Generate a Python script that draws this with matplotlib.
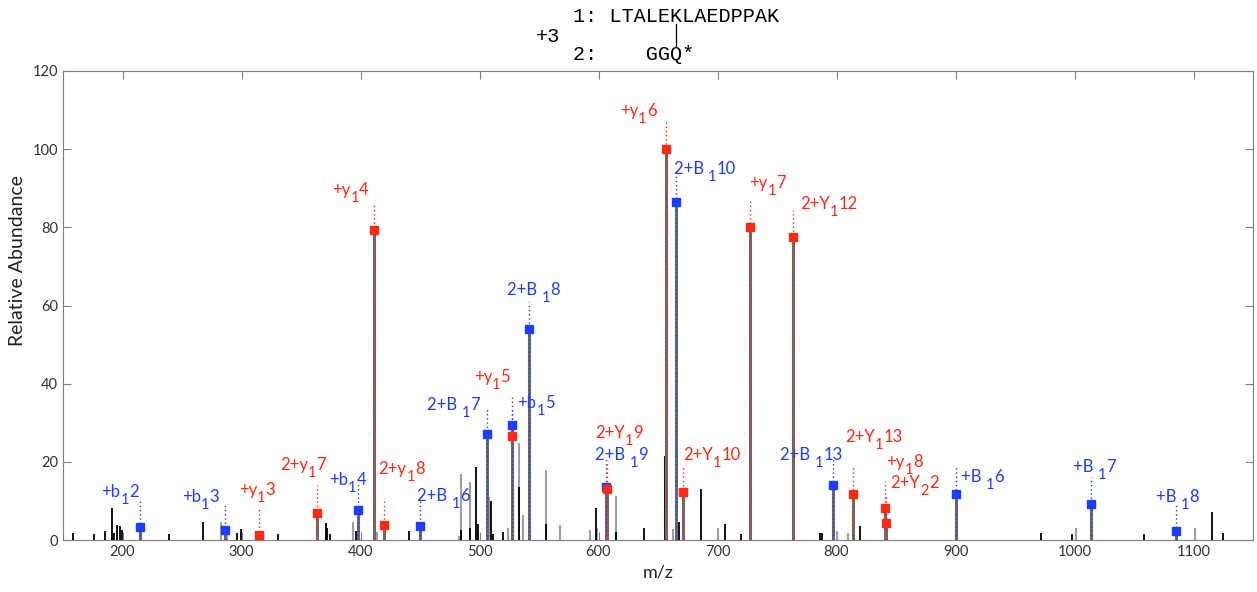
import numpy as np
import matplotlib
matplotlib.use("Agg")
import matplotlib.pyplot as plt
from matplotlib.lines import Line2D
from matplotlib.font_manager import FontProperties

plt.rcParams['font.family'] = ['Lato', 'DejaVu Sans']

# matched fragment ions
ion_mz = [214.3, 286.0, 314.6, 363.4, 398.0, 411.5, 420.0, 450.0, 506.7, 527.0, 527.7,
          542.0, 606.6, 607.0, 656.6, 665.0, 671.0, 727.4, 763.6, 797.3, 814.0, 841.0,
          842.0, 900.5, 1013.8, 1085.4]
ion_int = [3.3, 2.5, 1.3, 7.0, 7.6, 79.3, 3.8, 3.7, 27.0, 26.6, 29.5,
           54.0, 13.6, 13.0, 100.0, 86.5, 12.3, 80.0, 77.5, 14.0, 11.8, 8.2,
           4.4, 11.8, 9.2, 2.3]
ion_type = ['b', 'b', 'y', 'y', 'b', 'y', 'y', 'b', 'b', 'y', 'b',
            'b', 'b', 'y', 'y', 'b', 'y', 'y', 'y', 'b', 'y', 'y',
            'y', 'b', 'b', 'b']
# label = prefix, subscript, suffix
ion_label = [('+b', '1', '2'), ('+b', '1', '3'), ('+y', '1', '3'), ('2+y', '1', '7'),
             ('+b', '1', '4'), ('+y', '1', '4'), ('2+y', '1', '8'), ('2+B ', '1', '6'),
             ('2+B ', '1', '7'), ('+y', '1', '5'), ('+b', '1', '5'), ('2+B ', '1', '8'),
             ('2+B ', '1', '9'), ('2+Y', '1', '9'), ('+y', '1', '6'), ('2+B ', '1', '10'),
             ('2+Y', '1', '10'), ('+y', '1', '7'), ('2+Y', '1', '12'), ('2+B ', '1', '13'),
             ('2+Y', '1', '13'), ('+y', '1', '8'), ('2+Y', '2', '2'), ('+B ', '1', '6'),
             ('+B ', '1', '7'), ('+B ', '1', '8')]

# unmatched peaks
black_mz = [158, 176.4, 185.4, 191, 193, 195, 197.5, 199.5, 238.8, 267.4, 296.3, 299.4,
            316, 330.8, 370.8, 372, 374, 396.3, 412.5, 441, 484.8, 492.3, 497.4, 499,
            510, 511, 519.5, 533.6, 556, 597.6, 614.4, 638.3, 656, 657, 665.5, 667.7,
            671.5, 685.8, 706.2, 719.4, 727.5, 763.5, 786.3, 787.5, 797.5, 814, 819.4,
            841.5, 900.6, 971.7, 997.8, 1013.8, 1058.8, 1115.5, 1124.7]
black_int = [1.7, 1.5, 2.3, 8.1, 1.8, 3.9, 3.5, 2.5, 1.5, 4.7, 1.7, 2.7,
             1.3, 1.5, 4.4, 3.0, 1.5, 2.2, 7.7, 2.4, 2.5, 3.0, 18.8, 4.0,
             10.0, 1.5, 2.1, 13.5, 4.1, 8.2, 2.1, 3.1, 21.5, 20.0, 50.5, 4.5,
             5.1, 13.0, 4.1, 1.5, 20.0, 47.5, 1.7, 1.9, 9.5, 8.2, 3.7,
             3.0, 3.4, 1.7, 1.5, 2.8, 1.6, 7.1, 1.7]
gray_mz = [283, 287.9, 394, 413.5, 483, 484.8, 492.3, 499, 507.8, 523.7, 528.5, 532.8,
           536.4, 556, 568, 592.6, 599, 607.5, 614.4, 662.2, 700.5, 800.3, 810, 1000.9,
           1101.4]
gray_int = [4.5, 1.5, 4.7, 2.0, 1.0, 16.9, 14.8, 2.3, 10.9, 3.0, 3.0, 24.7,
            6.4, 17.8, 3.8, 2.6, 3.0, 8.2, 11.3, 2.8, 3.0, 2.4, 1.7, 3.0,
            3.1]

# label offsets from the marker, pixels (layout only)
label_dx = [-38, -43, -20, -37, -29, -42, -6, -3, -60, -38, 5, -22, -11, -12, -46, -2,
            0, -1, 7, -53, -8, 1, 4, 5, -18, -20]
label_dy = [30, 28, 40, 43, 25, 35, 51, 25, 24, 54, 17, 34, 27, 51, 33, 28,
            32, 39, 28, 25, 52, 41, 35, 12, 32, 29]

RED = '#ff2a14'
BLUE = '#1f3dff'
AXC = '#7f7f7f'

fig = plt.figure(figsize=(12.57, 5.92), dpi=100)
ax = fig.add_axes([63 / 1257, 1 - 540 / 592, (1253 - 63) / 1257, (540 - 71) / 592])
renderer = fig.canvas.get_renderer()

ax.vlines(gray_mz, 0, gray_int, color='#a0a0a0', linewidth=1.5)
ax.vlines(black_mz, 0, black_int, color='black', linewidth=1.3)


def label_text(mz, h, parts, dx, dy, c):
    # prefix, lowered subscript, suffix
    x = dx
    for s, fsz, yoff in zip(parts, [12, 10.5, 12], [0, -7, 0]):
        ax.annotate(s, xy=(mz, h), xytext=(x, dy + yoff), textcoords='offset pixels',
                    color=c, fontsize=fsz, ha='left', va='baseline', zorder=6)
        w, _, _ = renderer.get_text_width_height_descent(
            s.replace(' ', '\u00a0'), FontProperties(family='Lato', size=fsz), ismath=False)
        x += w


for mz, h, t, lab, dx, dy in zip(ion_mz, ion_int, ion_type, ion_label, label_dx, label_dy):
    c = RED if t == 'y' else BLUE
    ax.vlines(mz, 0, h, color='#6a6a6a', linewidth=2.2, zorder=3)
    ax.plot([mz, mz], [0, h + 7], color=c, linestyle=(0, (1, 2)), linewidth=1, zorder=4)
    ax.plot(mz, h, 's', color=c, markersize=6, zorder=5)
    label_text(mz, h, lab, dx, dy, c)

ax.set_xlim(150, 1150)
ax.set_ylim(0, 120)
ax.set_xticks(np.arange(200, 1101, 100))
ax.set_yticks(np.arange(0, 121, 20))
ax.tick_params(direction='in', top=True, right=True, length=6, color=AXC,
               labelsize=10.5, labelcolor='#333333')
for s in ax.spines.values():
    s.set_color(AXC)
ax.set_xlabel('m/z', fontsize=13, color='#222222', labelpad=4)
ax.set_ylabel('Relative Abundance', fontsize=14, color='#222222')
ax.yaxis.set_label_coords(-0.031, 0.597)

# crosslink header
fs = 14.5
mono = 'Liberation Mono'
x0 = 573 / 1257
fig.text(x0, 1 - 16 / 592, '1: LTALEKLAEDPPAK', family=mono, fontsize=fs, va='center', ha='left')
fig.text(x0, 1 - 55 / 592, '2:    GGQ*', family=mono, fontsize=fs, va='center', ha='left')
fig.text(536 / 1257, 1 - 36 / 592, '+3', family=mono, fontsize=fs, va='center', ha='left')
cw = fs / 72 * 100 * 0.6
xl = x0 + 8.5 * cw / 1257
fig.add_artist(Line2D([xl, xl], [1 - 24 / 592, 1 - 46 / 592], color='black', linewidth=0.9))

fig.savefig('out.png', dpi=100)
